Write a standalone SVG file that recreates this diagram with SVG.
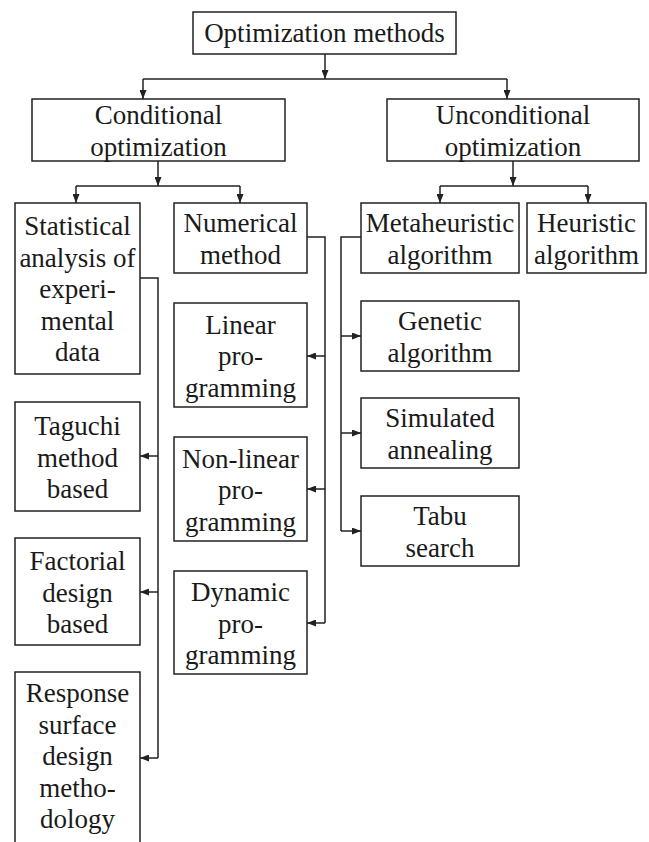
<svg xmlns="http://www.w3.org/2000/svg" width="649" height="842" viewBox="0 0 649 842">
<style>
.box{fill:#fff;stroke:#222;stroke-width:1.5}
.t{font-family:"Liberation Serif","Times New Roman",serif;font-size:27px;fill:#1a1a1a;text-anchor:middle}
.c{fill:none;stroke:#222;stroke-width:1.5}
</style>
<defs>
<marker id="ah" markerUnits="userSpaceOnUse" markerWidth="9" markerHeight="7" refX="9" refY="3.5" orient="auto">
<path d="M0,0 L9,3.5 L0,7 z" fill="#222"/>
</marker>
</defs>
<rect width="649" height="842" fill="#fff"/>
<g id="connectors">
<line class="c" x1="325" y1="54" x2="325" y2="79" marker-end="url(#ah)"/>
<line class="c" x1="143" y1="79" x2="507" y2="79"/>
<line class="c" x1="143" y1="79" x2="143" y2="99" marker-end="url(#ah)"/>
<line class="c" x1="507" y1="79" x2="507" y2="99" marker-end="url(#ah)"/>
<line class="c" x1="158" y1="161" x2="158" y2="186" marker-end="url(#ah)"/>
<line class="c" x1="76" y1="186" x2="240" y2="186"/>
<line class="c" x1="76" y1="186" x2="76" y2="203" marker-end="url(#ah)"/>
<line class="c" x1="240" y1="186" x2="240" y2="203" marker-end="url(#ah)"/>
<line class="c" x1="513" y1="161" x2="513" y2="186" marker-end="url(#ah)"/>
<line class="c" x1="440" y1="186" x2="588" y2="186"/>
<line class="c" x1="440" y1="186" x2="440" y2="203" marker-end="url(#ah)"/>
<line class="c" x1="588" y1="186" x2="588" y2="203" marker-end="url(#ah)"/>
<polyline class="c" points="140,278 158,278 158,758"/>
<line class="c" x1="158" y1="456" x2="140" y2="456" marker-end="url(#ah)"/>
<line class="c" x1="158" y1="592" x2="140" y2="592" marker-end="url(#ah)"/>
<line class="c" x1="158" y1="758" x2="140" y2="758" marker-end="url(#ah)"/>
<polyline class="c" points="307,237 325,237 325,623"/>
<line class="c" x1="325" y1="356" x2="307" y2="356" marker-end="url(#ah)"/>
<line class="c" x1="325" y1="489" x2="307" y2="489" marker-end="url(#ah)"/>
<line class="c" x1="325" y1="623" x2="307" y2="623" marker-end="url(#ah)"/>
<polyline class="c" points="361,237 341,237 341,531"/>
<line class="c" x1="341" y1="336" x2="361" y2="336" marker-end="url(#ah)"/>
<line class="c" x1="341" y1="433" x2="361" y2="433" marker-end="url(#ah)"/>
<line class="c" x1="341" y1="531" x2="361" y2="531" marker-end="url(#ah)"/>
</g>
<g id="optimization-methods">
<rect class="box" x="193" y="12" width="263" height="42"/>
<text class="t" x="324.5" y="42">Optimization methods</text>
</g>
<g id="conditional">
<rect class="box" x="32" y="99" width="253" height="62"/>
<text class="t" x="158.5" y="124">Conditional</text>
<text class="t" x="158.5" y="155.5">optimization</text>
</g>
<g id="unconditional">
<rect class="box" x="387" y="99" width="252" height="62"/>
<text class="t" x="513" y="124">Unconditional</text>
<text class="t" x="513" y="155.5">optimization</text>
</g>
<g id="statistical">
<rect class="box" x="15" y="203" width="125" height="171"/>
<text class="t" x="77.5" y="235">Statistical</text>
<text class="t" x="77.5" y="266.5">analysis of</text>
<text class="t" x="77.5" y="298">experi-</text>
<text class="t" x="77.5" y="329.5">mental</text>
<text class="t" x="77.5" y="361">data</text>
</g>
<g id="numerical">
<rect class="box" x="174" y="203" width="133" height="70"/>
<text class="t" x="240.5" y="232">Numerical</text>
<text class="t" x="240.5" y="263.5">method</text>
</g>
<g id="metaheuristic">
<rect class="box" x="361" y="203" width="158" height="70"/>
<text class="t" x="440" y="232">Metaheuristic</text>
<text class="t" x="440" y="263.5">algorithm</text>
</g>
<g id="heuristic">
<rect class="box" x="527" y="203" width="119" height="70"/>
<text class="t" x="586.5" y="232">Heuristic</text>
<text class="t" x="586.5" y="263.5">algorithm</text>
</g>
<g id="linear">
<rect class="box" x="174" y="303" width="133" height="104"/>
<text class="t" x="240.5" y="333.5">Linear</text>
<text class="t" x="240.5" y="365">pro-</text>
<text class="t" x="240.5" y="396.5">gramming</text>
</g>
<g id="nonlinear">
<rect class="box" x="174" y="437" width="133" height="104"/>
<text class="t" x="240.5" y="467.5">Non-linear</text>
<text class="t" x="240.5" y="499">pro-</text>
<text class="t" x="240.5" y="530.5">gramming</text>
</g>
<g id="dynamic">
<rect class="box" x="174" y="571" width="133" height="103"/>
<text class="t" x="240.5" y="601">Dynamic</text>
<text class="t" x="240.5" y="632.5">pro-</text>
<text class="t" x="240.5" y="664">gramming</text>
</g>
<g id="taguchi">
<rect class="box" x="15" y="402" width="125" height="109"/>
<text class="t" x="77.5" y="435">Taguchi</text>
<text class="t" x="77.5" y="466.5">method</text>
<text class="t" x="77.5" y="498">based</text>
</g>
<g id="factorial">
<rect class="box" x="15" y="538" width="125" height="107"/>
<text class="t" x="77.5" y="570">Factorial</text>
<text class="t" x="77.5" y="601.5">design</text>
<text class="t" x="77.5" y="633">based</text>
</g>
<g id="response">
<rect class="box" x="15" y="672" width="125" height="175"/>
<text class="t" x="77.5" y="702">Response</text>
<text class="t" x="77.5" y="733.5">surface</text>
<text class="t" x="77.5" y="765">design</text>
<text class="t" x="77.5" y="796.5">metho-</text>
<text class="t" x="77.5" y="828">dology</text>
</g>
<g id="genetic">
<rect class="box" x="361" y="301" width="158" height="70"/>
<text class="t" x="440" y="330">Genetic</text>
<text class="t" x="440" y="361.5">algorithm</text>
</g>
<g id="simulated">
<rect class="box" x="361" y="398" width="158" height="70"/>
<text class="t" x="440" y="427">Simulated</text>
<text class="t" x="440" y="458.5">annealing</text>
</g>
<g id="tabu">
<rect class="box" x="361" y="496" width="158" height="70"/>
<text class="t" x="440" y="525">Tabu</text>
<text class="t" x="440" y="556.5">search</text>
</g>
</svg>
